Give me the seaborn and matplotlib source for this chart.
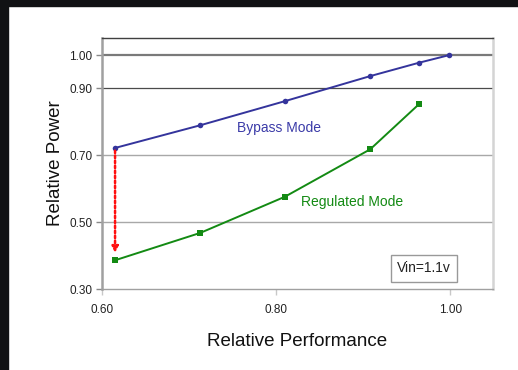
import pandas as pd
import matplotlib
matplotlib.use("Agg")
import matplotlib.pyplot as plt
import seaborn as sns
from matplotlib.patches import Rectangle

# Data
bypass_perf = [0.615, 0.713, 0.810, 0.908, 0.964, 0.999]
bypass_power = [0.722, 0.790, 0.862, 0.937, 0.977, 1.000]
reg_perf = [0.615, 0.713, 0.810, 0.908, 0.964]
reg_power = [0.386, 0.468, 0.576, 0.718, 0.853]
y_ticks = [0.30, 0.50, 0.70, 0.90, 1.00]
x_ticks = [0.60, 0.80, 1.00]

bypass_df = pd.DataFrame({"perf": bypass_perf, "power": bypass_power})
reg_df = pd.DataFrame({"perf": reg_perf, "power": reg_power})

sns.set_style("white")
plt.rcParams['font.family'] = ['Liberation Sans', 'DejaVu Sans']

BLUE = '#34349c'
GREEN = '#138a13'

fig = plt.figure(figsize=(5.18, 3.70), dpi=100)
# black frame strips on left and top edges
fig.patches.append(Rectangle((0, 0), 8 / 518, 1, transform=fig.transFigure,
                             color='#111214', zorder=-1))
fig.patches.append(Rectangle((0, 1 - 6 / 370), 1, 6 / 370, transform=fig.transFigure,
                             color='#111214', zorder=-1))

ax = fig.add_axes([102 / 518, 1 - 289 / 370, 391 / 518, 251 / 370])
ax.set_xlim(0.6, 1.049)
ax.set_ylim(0.30, 1.051)

# horizontal grid lines
for v in [0.50, 0.70]:
    ax.axhline(v, color='#a8a8a8', lw=1.0, zorder=1)
ax.axhline(0.90, color='#4a4a4a', lw=0.9, zorder=1)
ax.axhline(1.00, color='#7a7a7a', lw=1.6, zorder=1)

sns.lineplot(data=bypass_df, x='perf', y='power', ax=ax, color=BLUE, lw=1.4,
             marker='o', markersize=4, markeredgewidth=0, zorder=3)
sns.lineplot(data=reg_df, x='perf', y='power', ax=ax, color=GREEN, lw=1.4,
             marker='s', markersize=4.5, markeredgewidth=0, zorder=3)

# red dotted arrow from bypass to regulated at lowest performance
ax.annotate('', xy=(reg_perf[0], reg_power[0] + 0.022),
            xytext=(bypass_perf[0], bypass_power[0] - 0.008),
            arrowprops=dict(arrowstyle='-|>', color='#ff1010', lw=1.8,
                            linestyle=(0, (1, 1.0)), mutation_scale=9,
                            shrinkA=0, shrinkB=0), zorder=4)

ax.text(0.803, 0.781, 'Bypass Mode', color='#3b3ba8', fontsize=10,
        ha='center', va='center')
ax.text(0.828, 0.561, 'Regulated Mode', color=GREEN, fontsize=10,
        ha='left', va='center')
ax.text(1.001, 0.362, 'Vin=1.1v', color='#222222', fontsize=10,
        ha='right', va='center',
        bbox=dict(boxstyle='square,pad=0.45', fc='white', ec='#999999', lw=1))

ax.set_xticks(x_ticks)
ax.set_xticklabels([f"{v:.2f}" for v in x_ticks])
ax.set_yticks(y_ticks)
ax.set_yticklabels([f"{v:.2f}" for v in y_ticks])
ax.tick_params(axis='x', length=4, width=1, color='#c8c8c8', pad=7,
               labelsize=8.5, labelcolor='#222222')
ax.tick_params(axis='y', length=4, width=1, color='#888888', pad=3,
               labelsize=8.5, labelcolor='#222222')
ax.tick_params(bottom=True, left=True)

ax.set_xlabel('Relative Performance', fontsize=13.5, color='#111111', labelpad=12)
ax.set_ylabel('Relative Power', fontsize=13.5, color='#111111', labelpad=4)

ax.spines['left'].set_color('#a0a0a0')
ax.spines['left'].set_linewidth(1.8)
ax.spines['bottom'].set_color('#a0a0a0')
ax.spines['bottom'].set_linewidth(1.0)
ax.spines['top'].set_color('#404040')
ax.spines['top'].set_linewidth(1.0)
ax.spines['right'].set_color('#d4d4d4')
ax.spines['right'].set_linewidth(1.8)

fig.savefig('out.png', dpi=100)
